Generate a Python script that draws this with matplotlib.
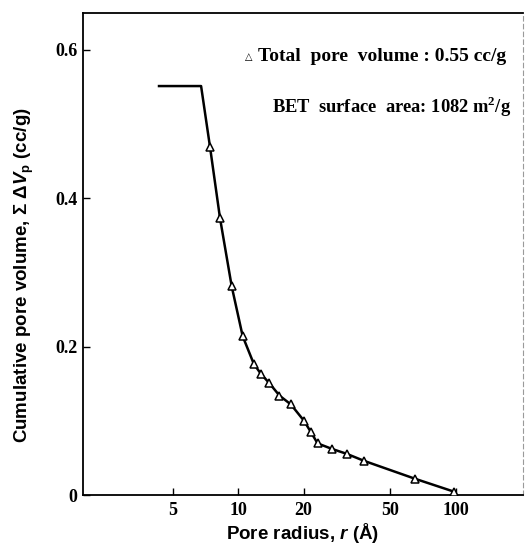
import matplotlib
matplotlib.use("Agg")
import matplotlib.pyplot as plt

# Data
flat_r = [4.33, 6.76]
flat_v = [0.551, 0.551]
radius = [7.43, 8.26, 9.35, 10.5, 11.8, 12.75, 13.9, 15.5, 17.5, 20.1,
          21.6, 23.2, 27.1, 31.6, 38.0, 65.0, 98.0]
volume = [0.469, 0.373, 0.281, 0.214, 0.177, 0.163, 0.151, 0.134, 0.122,
          0.100, 0.085, 0.0696, 0.062, 0.0555, 0.046, 0.022, 0.0047]
xticks = [5, 10, 20, 50, 100]
xtick_labels = ["5", "10", "20", "50", "100"]
yticks = [0, 0.2, 0.4, 0.6]
ytick_labels = ["0", "0.2", "0.4", "0.6"]

plt.rcParams['mathtext.fontset'] = 'custom'
plt.rcParams['mathtext.it'] = 'Liberation Sans:italic:bold'
plt.rcParams['mathtext.rm'] = 'Liberation Sans:bold'
plt.rcParams['mathtext.bf'] = 'Liberation Serif:bold'

fig = plt.figure(figsize=(5.25, 5.47), dpi=100)
ax = fig.add_axes([0.1575, 0.095, 0.8385, 0.882])

line_r = flat_r + radius
line_v = flat_v + volume
ax.plot(line_r, line_v, color="black", lw=1.8, zorder=2)
ax.plot(radius, volume, linestyle="none", marker="^", markersize=5.5,
        markerfacecolor="white", markeredgecolor="black", markeredgewidth=1.1,
        zorder=3)

ax.set_xscale("log")
ax.set_xlim(1.93, 204)
ax.set_ylim(0, 0.65)
ax.minorticks_off()
ax.set_xticks(xticks)
ax.set_xticklabels(xtick_labels)
ax.set_yticks(yticks)
ax.set_yticklabels(ytick_labels)

serif = ["Liberation Serif", "DejaVu Serif"]
for lab in ax.get_xticklabels() + ax.get_yticklabels():
    lab.set_fontfamily(serif)
    lab.set_fontweight("bold")
    lab.set_fontsize(13)

ax.tick_params(direction="in", length=5, width=1.0, colors="black")
ax.tick_params(axis="x", pad=5)
ax.tick_params(axis="y", pad=4)

for side in ["left", "bottom", "top"]:
    ax.spines[side].set_linewidth(1.3)
ax.spines["right"].set_linewidth(0.8)
ax.spines["right"].set_color("#9a9a9a")
ax.spines["right"].set_linestyle((0, (4, 3)))

ax.set_xlabel(r"Pore radius, $\mathit{r}$ (Å)", fontsize=13.5,
              fontfamily=["Liberation Sans", "DejaVu Sans"], fontweight="bold",
              labelpad=1.5)
ax.set_ylabel(r"Cumulative pore volume, $\Sigma\ \mathit{\Delta V}_\mathrm{p}$ (cc/g)",
              fontsize=13.5, fontfamily=["Liberation Sans", "DejaVu Sans"],
              fontweight="bold")
ax.yaxis.set_label_coords(-0.106, 0.456)

ax.text(0.369, 0.908, "\u25b3", transform=ax.transAxes, fontsize=7,
        fontfamily="DejaVu Sans", va="center", ha="left")
ax.text(0.398, 0.908, "Total  pore  volume : 0.55 cc/g", transform=ax.transAxes,
        fontsize=14, fontfamily=serif, fontweight="bold", va="center", ha="left")
ax.text(0.43, 0.804, "BET  surface  area: 1082 m$^{\\mathbf{2}}$/g", transform=ax.transAxes,
        fontsize=13.3, fontfamily=serif, fontweight="bold", va="center", ha="left")

fig.savefig("out.png", dpi=100)
